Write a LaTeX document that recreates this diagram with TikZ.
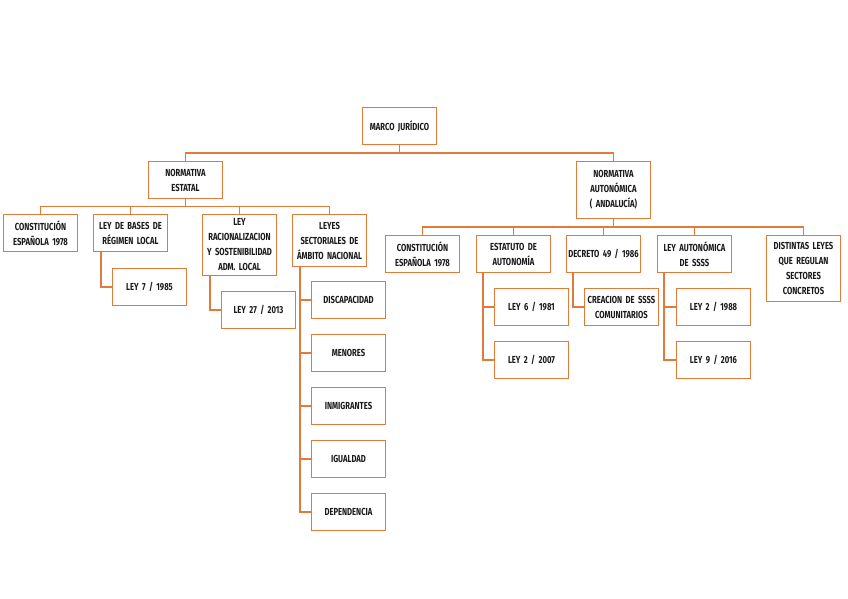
\documentclass[tikz,border=0pt]{standalone}
\usepackage{fontspec}
\setmainfont{Fira Sans}[FakeStretch=0.75, WordSpace=0.55]
\usepackage{tikz}
\usetikzlibrary{positioning,calc}
\definecolor{rust}{HTML}{E07B3C}
\definecolor{ink}{HTML}{1A1A1A}
\tikzset{
  box/.style={rectangle, draw=rust, fill=white, line width=1.4pt, text=ink,
              align=center, text width=71.6pt, inner xsep=1pt, inner ysep=3pt,
              minimum height=36.6pt, font=\bfseries\fontsize{10.2}{15}\selectfont},
  link/.style={draw=rust, line width=1.3pt}
}
\begin{document}
\begin{tikzpicture}[x=1pt, y=-1pt]
 \useasboundingbox[fill=white] (0,0) rectangle (848,599);
 % top level
 \node[box, anchor=north west] (marco) at (362,107) {MARCO JURÍDICO};
 \node[box, anchor=north west] (estatal) at (148,161) {NORMATIVA\\ESTATAL};
 \node[box, anchor=north west, minimum height=56.6pt] (auton) at (576,161) {NORMATIVA\\AUTONÓMICA\\( ANDALUCÍA)};
 % normativa estatal
 \node[box, anchor=north west] (ce) at (3,214) {CONSTITUCIÓN\\ESPAÑOLA 1978};
 \node[box, right=15pt of ce.north east, anchor=north west] (bases) {LEY DE BASES DE\\RÉGIMEN LOCAL};
 \node[box, right=34pt of bases.north east, anchor=north west, minimum height=60.6pt] (racio) {LEY\\RACIONALIZACION\\Y SOSTENIBILIDAD\\ADM. LOCAL};
 \node[box, right=15pt of racio.north east, anchor=north west, minimum height=51.6pt] (sect) {LEYES\\SECTORIALES DE\\ÁMBITO NACIONAL};
 \node[box, below right=16pt and 19pt of bases.south west, anchor=north west] (ley7) {LEY 7 / 1985};
 \node[box, below right=15pt and 19pt of racio.south west, anchor=north west] (ley27) {LEY 27 / 2013};
 \node[box, below right=14pt and 19pt of sect.south west, anchor=north west] (disc) {DISCAPACIDAD};
 \node[box, below=15pt of disc] (menor) {MENORES};
 \node[box, below=15pt of menor] (inmig) {INMIGRANTES};
 \node[box, below=15pt of inmig] (igual) {IGUALDAD};
 \node[box, below=15pt of igual] (depen) {DEPENDENCIA};
 % normativa autonomica
 \node[box, anchor=north west] (cea) at (385,235) {CONSTITUCIÓN\\ESPAÑOLA 1978};
 \node[box, right=16pt of cea.north east, anchor=north west] (estat) {ESTATUTO DE\\AUTONOMÍA};
 \node[box, right=15pt of estat.north east, anchor=north west] (decr) {DECRETO 49 / 1986};
 \node[box, right=16pt of decr.north east, anchor=north west] (lauto) {LEY AUTONÓMICA\\DE SSSS};
 \node[box, right=34pt of lauto.north east, anchor=north west, minimum height=65.6pt] (dist) {DISTINTAS LEYES\\QUE REGULAN\\SECTORES\\CONCRETOS};
 \node[box, below right=15pt and 18pt of estat.south west, anchor=north west] (ley6) {LEY 6 / 1981};
 \node[box, below=15pt of ley6] (ley2a) {LEY 2 / 2007};
 \node[box, below right=15pt and 18pt of decr.south west, anchor=north west] (creac) {CREACION DE SSSS\\COMUNITARIOS};
 \node[box, below right=15pt and 19pt of lauto.south west, anchor=north west] (ley2b) {LEY 2 / 1988};
 \node[box, below=15pt of ley2b] (ley9) {LEY 9 / 2016};
 % connectors
 \draw[link] (marco.south) -- ++(0,8) -| (estatal.north);
 \draw[link] (marco.south) -- ++(0,8) -| (auton.north);
 \foreach \k in {ce,bases,racio,sect}
   \draw[link] (estatal.south) -- ++(0,7.5) -| (\k.north);
 \foreach \k in {cea,estat,decr,lauto,dist}
   \draw[link] (auton.south) -- ++(0,8) -| (\k.north);
 \draw[link] ([xshift=8pt]bases.south west) |- (ley7.west);
 \draw[link] ([xshift=8pt]racio.south west) |- (ley27.west);
 \foreach \k in {disc,menor,inmig,igual,depen}
   \draw[link] ([xshift=8pt]sect.south west) |- (\k.west);
 \foreach \k in {ley6,ley2a}
   \draw[link] ([xshift=7pt]estat.south west) |- (\k.west);
 \draw[link] ([xshift=7pt]decr.south west) |- (creac.west);
 \foreach \k in {ley2b,ley9}
   \draw[link] ([xshift=7pt]lauto.south west) |- (\k.west);
\end{tikzpicture}
\end{document}
